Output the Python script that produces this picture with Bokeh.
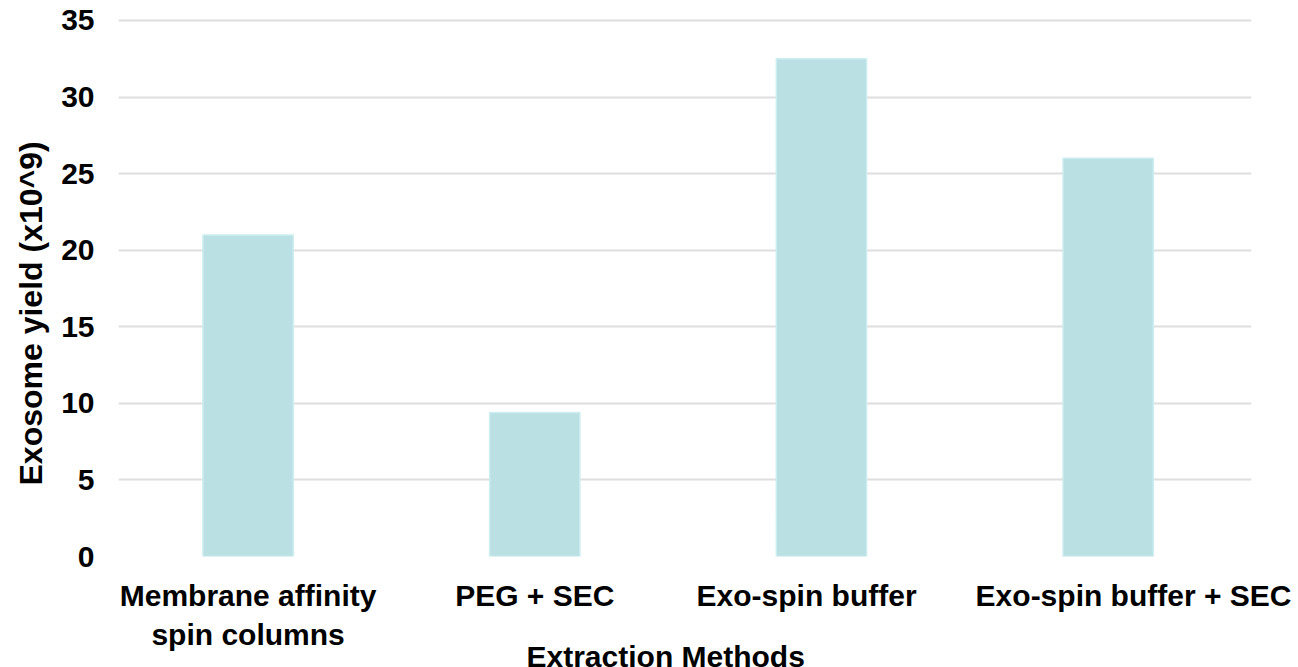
from bokeh.plotting import figure
from bokeh.models import Range1d, FixedTicker, ColumnDataSource, Title
from bokeh.embed import file_html
from bokeh.resources import INLINE

categories = ["Membrane affinity\nspin columns", "PEG + SEC", "Exo-spin buffer", "Exo-spin buffer + SEC"]
yields = [21.0, 9.4, 32.5, 26.0]
y_ticks = [0, 5, 10, 15, 20, 25, 30, 35]
x_title = "Extraction Methods"
y_title = "Exosome yield (x10^9)"

# style: horizontal nudge of the category labels (in category widths)
label_nudge = [0.0, 0.0, -0.052, 0.091]

x_pos = [i + 0.5 for i in range(len(categories))]
label_pos = [x + d for x, d in zip(x_pos, label_nudge)]
src = ColumnDataSource(dict(x=x_pos, top=yields))

FONT = "Liberation Sans"
FS = "30px"

p = figure(frame_width=1133, frame_height=538, output_backend="svg", toolbar_location=None,
           x_range=Range1d(0.048, 4.0), y_range=Range1d(0, 35.13),
           min_border_left=118, min_border_top=18, min_border_right=40, min_border_bottom=118)
p.outline_line_color = None

p.vbar(x="x", top="top", width=0.315, bottom=0, source=src,
       fill_color="#BAE0E4", line_color="#CDEEF1", line_width=1.5)

p.xaxis.ticker = FixedTicker(ticks=label_pos)
p.xaxis.major_label_overrides = {x: c for x, c in zip(label_pos, categories)}
p.yaxis.ticker = FixedTicker(ticks=y_ticks)

for ax in (p.xaxis[0], p.yaxis[0]):
    ax.axis_line_color = None
    ax.major_tick_line_color = None
    ax.minor_tick_line_color = None
    ax.major_label_text_font = FONT
    ax.major_label_text_font_style = "bold"
    ax.major_label_text_font_size = FS
    ax.major_label_text_color = "#000000"

p.xaxis.major_label_standoff = 16
p.yaxis.major_label_standoff = 18

p.add_layout(Title(text=y_title, align="left", offset=71, standoff=20,
                   text_font=FONT, text_font_style="bold", text_font_size="32px",
                   text_color="#000000"), "left")
p.add_layout(Title(text=x_title, align="left", offset=408, standoff=-36,
                   text_font=FONT, text_font_style="bold", text_font_size=FS,
                   text_color="#000000"), "below")

p.xgrid.grid_line_color = None
p.ygrid.grid_line_color = "#DEDEDE"
p.ygrid.grid_line_width = 2

open("out.html", "w").write(file_html(p, INLINE))
